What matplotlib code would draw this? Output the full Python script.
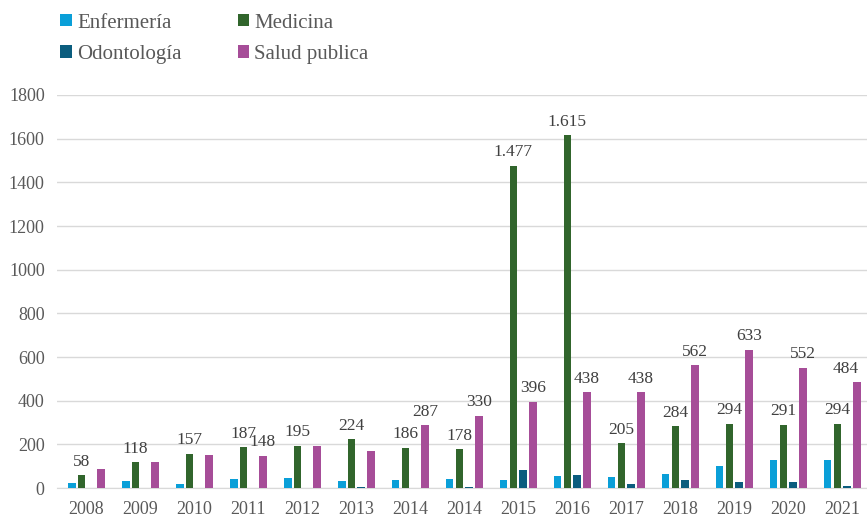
import numpy as np
import matplotlib.pyplot as plt

plt.rcParams['font.family'] = ['Liberation Serif', 'DejaVu Serif']

years = ["2008", "2009", "2010", "2011", "2012", "2013", "2014", "2014",
         "2015", "2016", "2017", "2018", "2019", "2020", "2021"]
enfermeria = [23, 31, 17, 41, 47, 32, 39, 42, 39, 55, 53, 67, 103, 127, 127]
medicina = [58, 118, 157, 187, 195, 224, 186, 178, 1477, 1615, 205, 284, 294, 291, 294]
odontologia = [0, 0, 0, 0, 0, 5, 2, 5, 82, 59, 19, 35, 28, 28, 9]
salud_publica = [88, 120, 152, 148, 191, 168, 287, 330, 396, 438, 438, 562, 633, 552, 484]

# which bars carry a value label
med_labels = [True] * 15
salud_labels = [False, False, False, True, False, False, True, True,
                True, True, True, True, True, True, True]

colors = {
    "Enfermería": "#0a9fd8",
    "Medicina": "#31652c",
    "Odontología": "#0b5d7e",
    "Salud publica": "#a64d98",
}

fig = plt.figure(figsize=(8.67, 5.16), dpi=100)
ax = fig.add_axes([0.066, 0.054, 0.934, 0.762])

x = np.arange(len(years))
step = 0.18
width = 0.14
series = [("Enfermería", enfermeria), ("Medicina", medicina),
          ("Odontología", odontologia), ("Salud publica", salud_publica)]
bars = {}
for i, (name, vals) in enumerate(series):
    bars[name] = ax.bar(x + (i - 1.5) * step, vals, width,
                        color=colors[name], label=name, zorder=3)

def fmt(v):
    return f"{v:,}".replace(",", ".")

lab_style = dict(textcoords="offset points", ha="center", va="bottom",
                 fontsize=12.5, color="#404040")
for xi, v, show in zip(x, medicina, med_labels):
    if show:
        ax.annotate(fmt(v), (xi - 0.5 * step, v), xytext=(0, 4), **lab_style)
for j, (xi, v, show) in enumerate(zip(x, salud_publica, salud_labels)):
    if show:
        # keep the last label inside the figure
        dx = -8 if j == len(x) - 1 else 0
        ax.annotate(fmt(v), (xi + 1.5 * step, v), xytext=(dx, 4), **lab_style)

ax.set_ylim(0, 1800)
ax.set_yticks(range(0, 1801, 200))
ax.set_xlim(-0.54, len(years) - 1 + 0.46)
ax.set_xticks(x)
ax.set_xticklabels(years)
ax.tick_params(axis="both", length=0, labelsize=13, colors="#595959")
ax.tick_params(axis="x", pad=9)
ax.tick_params(axis="y", pad=9)
ax.grid(axis="y", color="#d9d9d9", linewidth=1, zorder=0)
for side in ["top", "right", "left"]:
    ax.spines[side].set_visible(False)
ax.spines["bottom"].set_color("#d9d9d9")

handles = [bars["Enfermería"], bars["Odontología"], bars["Medicina"], bars["Salud publica"]]
labels = ["Enfermería", "Odontología", "Medicina", "Salud publica"]
fig.legend(handles, labels, ncol=2, loc="upper left", bbox_to_anchor=(0.048, 1.01),
           frameon=False, prop={"family": "Liberation Serif", "size": 15},
           labelcolor="#595959", handlelength=0.55, handleheight=0.55,
           handletextpad=0.25, columnspacing=2.7, labelspacing=0.58)

fig.savefig("out.png")
